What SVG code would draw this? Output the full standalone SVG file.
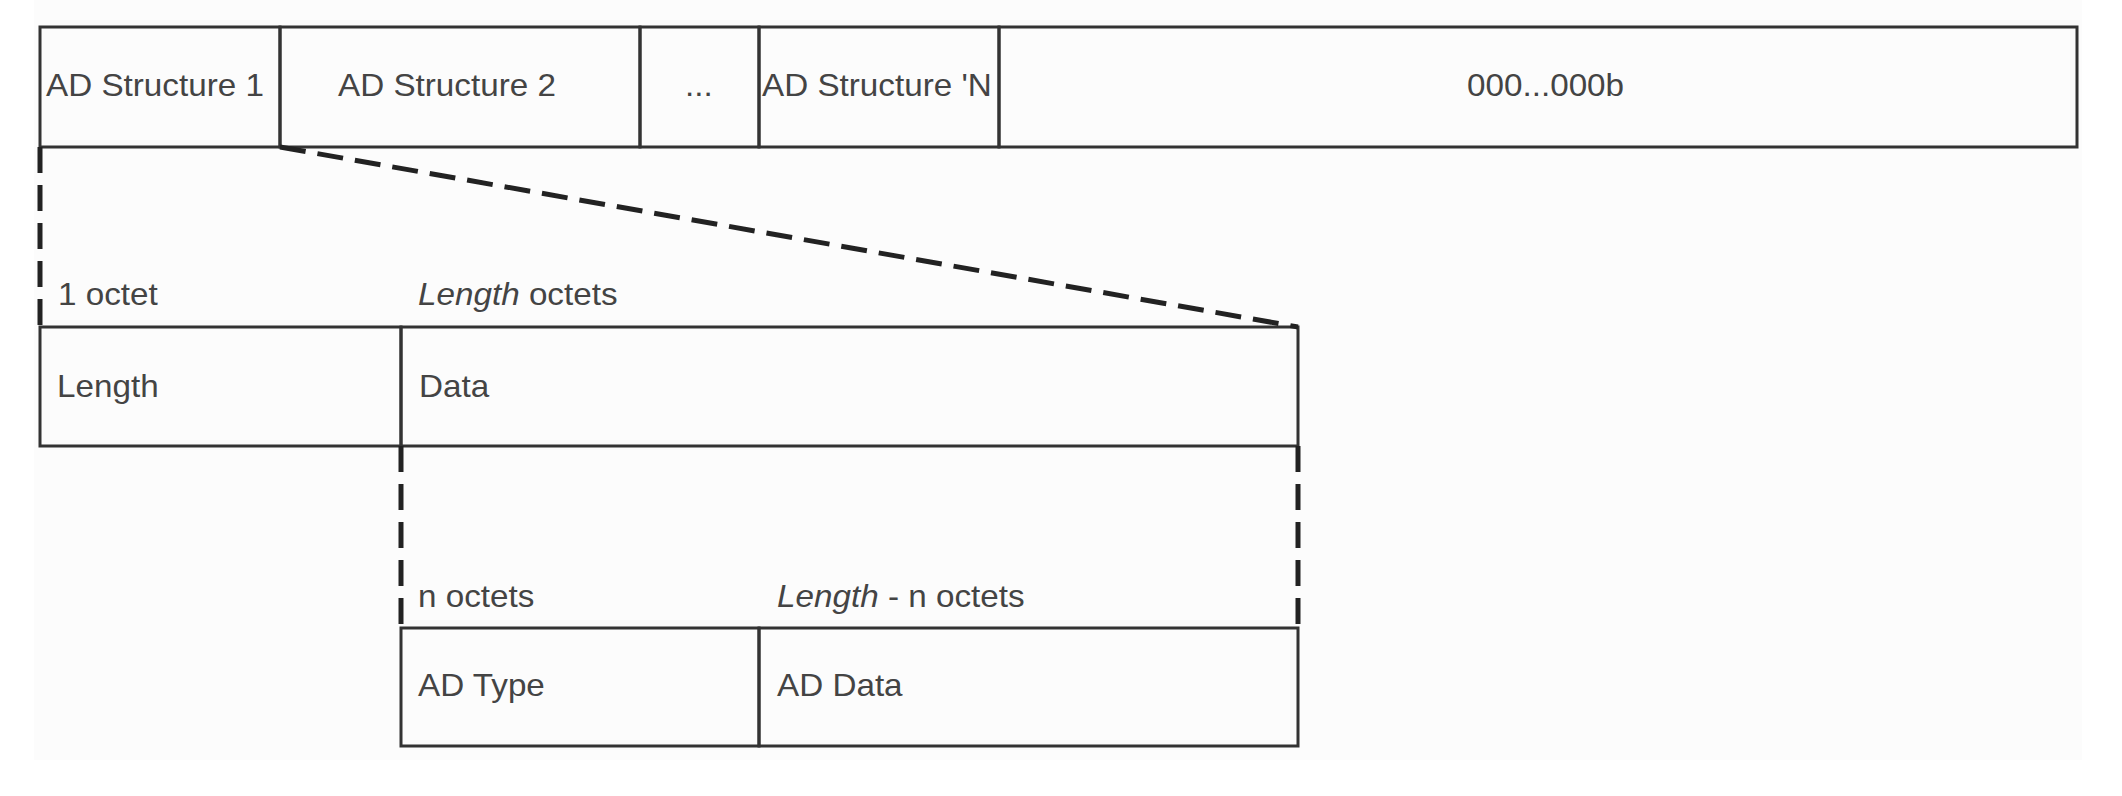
<svg xmlns="http://www.w3.org/2000/svg" width="2122" height="796" viewBox="0 0 2122 796">
<style>
.cell{fill:none;stroke:#333;stroke-width:3}
.t{font-family:"Liberation Sans",Arial,sans-serif;font-size:30.5px;fill:#444}
.i{font-style:italic}
.dash{fill:none;stroke:#222;stroke-width:5;stroke-dasharray:26 12}
</style>
<rect x="0" y="0" width="2122" height="796" fill="#ffffff"/>
<rect x="34" y="0" width="2048" height="760" fill="#fcfcfc"/>
<g id="row1">
  <g id="ad1"><rect class="cell" x="40" y="27" width="240" height="120"/><text class="t" transform="translate(46 96) scale(1.09 1)">AD Structure 1</text></g>
  <g id="ad2"><rect class="cell" x="280" y="27" width="360" height="120"/><text class="t" transform="translate(338 96) scale(1.09 1)">AD Structure 2</text></g>
  <g id="ellipsis"><rect class="cell" x="640" y="27" width="119" height="120"/><text class="t" transform="translate(685 96) scale(1.09 1)">...</text></g>
  <g id="adN"><rect class="cell" x="759" y="27" width="240" height="120"/><text class="t" transform="translate(762 96) scale(1.09 1)">AD Structure 'N</text></g>
  <g id="zeros"><rect class="cell" x="999" y="27" width="1078" height="120"/><text class="t" transform="translate(1467 96) scale(1.09 1)">000...000b</text></g>
</g>
<g id="row2">
  <text class="t" transform="translate(58 305) scale(1.09 1)">1 octet</text>
  <text class="t" transform="translate(418 305) scale(1.09 1)"><tspan class="i">Length</tspan> octets</text>
  <g id="length"><rect class="cell" x="40" y="327" width="361" height="119"/><text class="t" transform="translate(57 397) scale(1.09 1)">Length</text></g>
  <g id="data"><rect class="cell" x="401" y="327" width="897" height="119"/><text class="t" transform="translate(419 397) scale(1.09 1)">Data</text></g>
</g>
<g id="row3">
  <text class="t" transform="translate(418 607) scale(1.09 1)">n octets</text>
  <text class="t" transform="translate(777 607) scale(1.09 1)"><tspan class="i">Length</tspan> - n octets</text>
  <g id="adtype"><rect class="cell" x="401" y="628" width="358" height="118"/><text class="t" transform="translate(418 696) scale(1.09 1)">AD Type</text></g>
  <g id="addata"><rect class="cell" x="759" y="628" width="539" height="118"/><text class="t" transform="translate(777 696) scale(1.09 1)">AD Data</text></g>
</g>
<g id="connectors">
  <line class="dash" x1="40" y1="147" x2="40" y2="327"/>
  <line class="dash" x1="280" y1="147" x2="1298" y2="327"/>
  <line class="dash" x1="401" y1="446" x2="401" y2="628"/>
  <line class="dash" x1="1298" y1="446" x2="1298" y2="628"/>
</g>
</svg>
